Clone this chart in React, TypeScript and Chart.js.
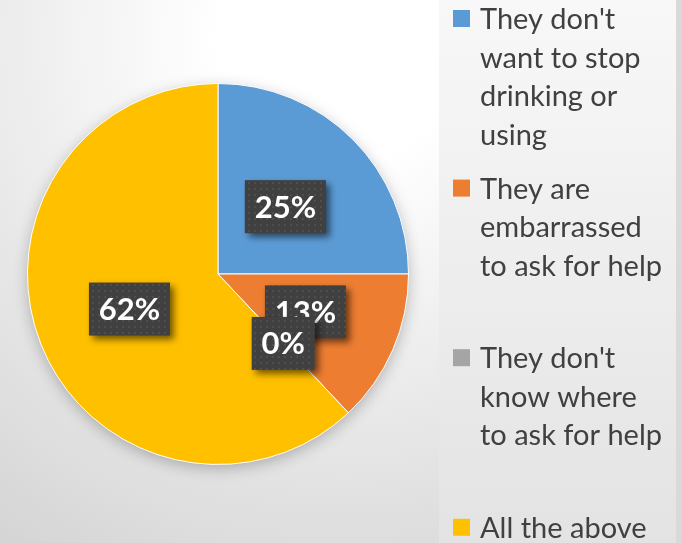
import React, { useEffect, useRef } from "react";
import { Chart, registerables } from "chart.js";

Chart.register(...registerables);

const categories = [
  "They don't want to stop drinking or using",
  "They are embarrassed to ask for help",
  "They don't know where to ask for help",
  "All the above",
];
const legendLines = [
  ["They don't", "want to stop", "drinking or", "using"],
  ["They are", "embarrassed", "to ask for help"],
  ["They don't", "know where", "to ask for help"],
  ["All the above"],
];
const values = [25, 13, 0, 62];
const valueLabels = ["25%", "13%", "0%", "62%"];
const colors = ["#5B9BD5", "#ED7D31", "#A5A5A5", "#FFC000"];

function makePattern(ctx: CanvasRenderingContext2D) {
  const c = document.createElement("canvas");
  c.width = 6;
  c.height = 6;
  const p = c.getContext("2d")!;
  p.fillStyle = "#404040";
  p.fillRect(0, 0, 6, 6);
  p.fillStyle = "#4e4e4e";
  p.fillRect(2, 2, 2, 2);
  return ctx.createPattern(c, "repeat")!;
}

const bgPlugin = {
  id: "bgPlugin",
  beforeDraw(chart: any) {
    const ctx: CanvasRenderingContext2D = chart.ctx;
    const w = chart.width;
    const h = chart.height;
    ctx.save();
    const g = ctx.createRadialGradient(340, 40, 0, 340, 40, 610);
    g.addColorStop(0, "#ffffff");
    g.addColorStop(0.2, "#ffffff");
    g.addColorStop(1, "#d4d4d4");
    ctx.fillStyle = g;
    ctx.fillRect(0, 0, w, h);
    const lg = ctx.createLinearGradient(0, 0, 0, h);
    lg.addColorStop(0, "#f8f8f8");
    lg.addColorStop(1, "#e3e3e3");
    ctx.fillStyle = lg;
    ctx.fillRect(439, 0, 237, h);
    ctx.fillStyle = "#d9d9d9";
    ctx.fillRect(676, 0, w - 676, h);
    ctx.restore();
  },
  beforeDatasetsDraw(chart: any) {
    const ctx: CanvasRenderingContext2D = chart.ctx;
    const arc = chart.getDatasetMeta(0).data[0];
    if (!arc) return;
    ctx.save();
    ctx.shadowColor = "rgba(0,0,0,0.28)";
    ctx.shadowBlur = 16;
    ctx.shadowOffsetY = 4;
    ctx.fillStyle = "#cccccc";
    ctx.beginPath();
    ctx.arc(arc.x, arc.y, arc.outerRadius - 1, 0, Math.PI * 2);
    ctx.fill();
    ctx.restore();
  },
  afterDraw(chart: any) {
    const ctx: CanvasRenderingContext2D = chart.ctx;
    const meta = chart.getDatasetMeta(0);
    const pattern = makePattern(ctx);
    ctx.save();
    ctx.font = "bold 31px Lato";
    ctx.textAlign = "center";
    ctx.textBaseline = "middle";
    meta.data.forEach((el: any, i: number) => {
      const p = el.getCenterPoint();
      const txt = valueLabels[i];
      const tw = ctx.measureText(txt).width;
      const bw = Math.round(tw + 20);
      const bh = 53;
      const x = p.x - bw / 2;
      const y = p.y - bh / 2;
      ctx.save();
      ctx.shadowColor = "rgba(0,0,0,0.55)";
      ctx.shadowBlur = 7;
      ctx.shadowOffsetX = 4;
      ctx.shadowOffsetY = 4;
      ctx.fillStyle = pattern;
      ctx.fillRect(x, y, bw, bh);
      ctx.restore();
      ctx.fillStyle = "#ffffff";
      ctx.fillText(txt, p.x, p.y + 1);
    });
    ctx.restore();

    ctx.save();
    ctx.font = "29px Lato";
    ctx.textAlign = "left";
    ctx.textBaseline = "alphabetic";
    legendLines.forEach((lines, i) => {
      const base = 29 + i * 169.6;
      ctx.fillStyle = colors[i];
      ctx.fillRect(453, base - 19, 17, 17);
      ctx.fillStyle = "#404040";
      lines.forEach((ln, j) => {
        ctx.fillText(ln, 480, base + j * 38.5);
      });
    });
    ctx.restore();
  },
};

export default function App() {
  const ref = useRef<HTMLCanvasElement>(null);
  useEffect(() => {
    document.body.style.margin = "0";
    const chart = new Chart(ref.current!, {
      type: "pie",
      data: {
        labels: categories,
        datasets: [
          {
            data: values,
            backgroundColor: colors,
            borderColor: "#ffffff",
            borderWidth: 1,
          },
        ],
      },
      options: {
        responsive: false,
        animation: false,
        layout: { padding: { left: 27, top: 83, right: 273, bottom: 78 } },
        plugins: {
          legend: { display: false },
          tooltip: { enabled: false },
        },
      },
      plugins: [bgPlugin],
    });
    return () => chart.destroy();
  }, []);
  return (
    <div style={{ position: "absolute", left: 0, top: 0, width: 682, height: 543 }}>
      <canvas ref={ref} width={682} height={543} />
    </div>
  );
}
